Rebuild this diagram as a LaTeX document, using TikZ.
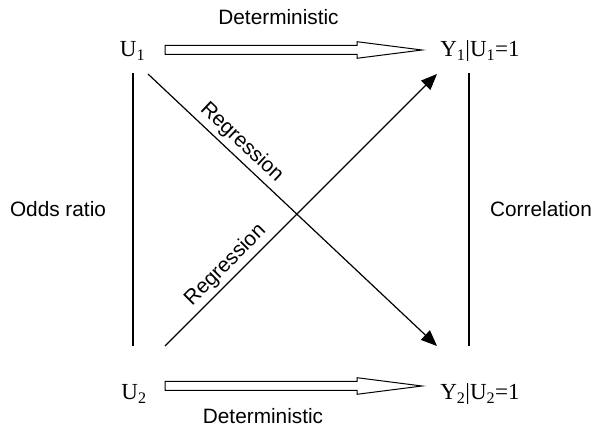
\documentclass[tikz,border=0pt]{standalone}
\usepackage{fontspec}
\setmainfont{Liberation Serif}
\newfontfamily\labelfont{Liberation Sans}
\usepackage{tikz}
\usetikzlibrary{arrows.meta,calc}

\tikzset{
  var/.style={inner sep=0pt, anchor=base, font=\fontsize{23}{27}\selectfont},
  lbl/.style={inner sep=0pt, anchor=base, font=\labelfont\fontsize{20.8}{25}\selectfont},
  reg/.style={font=\labelfont\fontsize{20.8}{25}\selectfont, sloped, above, inner sep=4pt},
  link/.style={line width=1.2pt},
  effect/.style={line width=1.2pt, -{Triangle[length=16pt, width=13pt]}},
}
\newcommand{\fatarrow}[2]{%
  \draw[line width=1pt] ($(#1)+(0,-4.5)$) -- ($(#2)+(-65,-4.5)$) -- ($(#2)+(-65,-8.3)$)
    -- (#2) -- ($(#2)+(-65,8.3)$) -- ($(#2)+(-65,4.5)$) -- ($(#1)+(0,4.5)$) -- cycle;}

\begin{document}
\begin{tikzpicture}[x=1pt, y=-1pt]
  \useasboundingbox (0,0) rectangle (595,427);
  % variables
  \node[var] (u1) at (132.5,57) {U\textsubscript{1}};
  \node[var] (y1) at (480,57) {Y\textsubscript{1}|U\textsubscript{1}=1};
  \node[var] (u2) at (134,400) {U\textsubscript{2}};
  \node[var] (y2) at (480,400) {Y\textsubscript{2}|U\textsubscript{2}=1};
  % side labels
  \node[lbl] (det1) at (278.5,25) {Deterministic};
  \node[lbl] (det2) at (263,424) {Deterministic};
  \node[lbl] (odds) at (58,216.7) {Odds ratio};
  \node[lbl] (corr) at (541,216.7) {Correlation};
  % connector ends
  \coordinate (u1s) at (133,73);   \coordinate (u2n) at (133,346);
  \coordinate (y1s) at (469,73);   \coordinate (y2n) at (469,346);
  \coordinate (u1d) at (148,74);   \coordinate (y2d) at (437,346);
  \coordinate (u2d) at (165,346);  \coordinate (y1d) at (437,74);
  \coordinate (t1s) at (165,50);   \coordinate (t1e) at (422,50);
  \coordinate (t2s) at (165,386);  \coordinate (t2e) at (422,386);
  % deterministic arrows
  \fatarrow{t1s}{t1e}
  \fatarrow{t2s}{t2e}
  % associations
  \draw[link] (u1s) -- (u2n);
  \draw[link] (y1s) -- (y2n);
  % regressions
  \draw[effect] (u1d) -- node[reg, pos=0.29] {Regression} (y2d);
  \draw[effect] (u2d) -- node[reg, pos=0.26] {Regression} (y1d);
\end{tikzpicture}
\end{document}
